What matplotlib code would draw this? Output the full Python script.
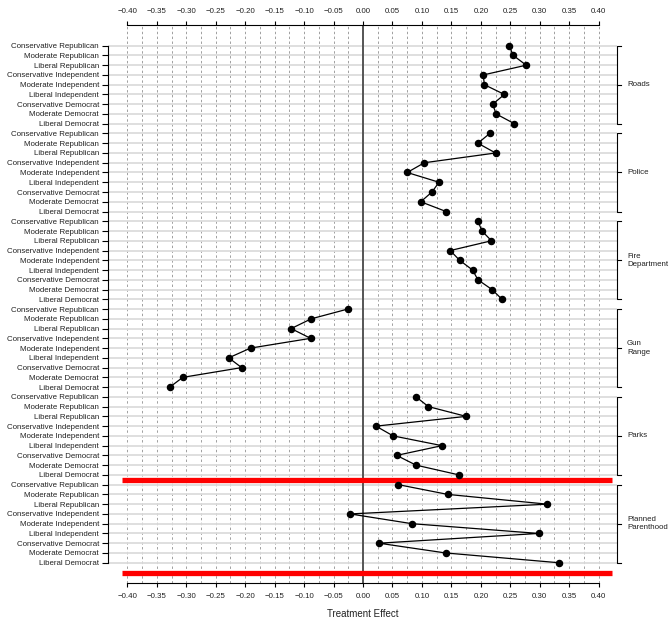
import matplotlib
matplotlib.use("Agg")
import matplotlib.pyplot as plt
import numpy as np

plt.rcParams["font.family"] = ["Liberation Sans", "DejaVu Sans"]

# respondent groups (same order within every policy block)
groups = ["Conservative Republican", "Moderate Republican", "Liberal Republican",
          "Conservative Independent", "Moderate Independent", "Liberal Independent",
          "Conservative Democrat", "Moderate Democrat", "Liberal Democrat"]

policies = ["Roads", "Police", "Fire\nDepartment", "Gun\nRange", "Parks",
            "Planned\nParenthood"]

roads = [0.248, 0.255, 0.277, 0.204, 0.206, 0.240, 0.220, 0.226, 0.257]
police = [0.215, 0.195, 0.225, 0.104, 0.075, 0.129, 0.117, 0.098, 0.141]
fire = [0.195, 0.202, 0.218, 0.148, 0.164, 0.186, 0.195, 0.219, 0.236]
gun = [-0.026, -0.088, -0.122, -0.089, -0.191, -0.228, -0.206, -0.306, -0.328]
parks = [0.090, 0.111, 0.175, 0.022, 0.051, 0.134, 0.057, 0.090, 0.163]
planned = [0.060, 0.144, 0.313, -0.022, 0.083, 0.298, 0.027, 0.140, 0.332]

effects = [roads, police, fire, gun, parks, planned]

xticks = np.round(np.arange(-0.40, 0.401, 0.05), 2)
xgrid = np.arange(-0.40, 0.401, 0.025)

fig = plt.figure(figsize=(6.71, 6.2), dpi=100)
ax = fig.add_axes([108 / 671, 37 / 620, 509 / 671, 558 / 620])

n = len(groups)
nrows = n * len(policies)
rows = np.arange(nrows)

ax.set_xlim(-0.4329, 0.4311)
ax.set_ylim(55.08, -2.12)

# background guides
for g in xgrid:
    ax.axvline(g, color="#a0a0a0", lw=0.7, ls=(0, (2.5, 2.5)), zorder=1)
ax.hlines(rows, -0.4329, 0.4311, color="#dcdcdc", lw=1.3, zorder=1)
ax.axvline(0, color="#555555", lw=1.4, zorder=2)

# one connected chain per policy block
for i, vals in enumerate(effects):
    y = rows[i * n:(i + 1) * n]
    ax.plot(vals, y, color="black", lw=0.9, marker="o", ms=4.4,
            mfc="black", mec="black", zorder=4)

# red separators around the last block
ax.hlines([44.5, 54.05], -0.409, 0.423, color="red", lw=3.8, zorder=3)

# axes
for side in ["left", "right"]:
    ax.spines[side].set_visible(False)
ax.spines["top"].set_bounds(-0.4, 0.4)
ax.spines["bottom"].set_bounds(-0.4, 0.4)
for side in ["top", "bottom"]:
    ax.spines[side].set_linewidth(0.8)

ax.set_xticks(xticks)
ax.set_xticklabels([f"{t:.2f}".replace("-", "\u2212") if t != 0 else "0.00"
                    for t in xticks])
ax.tick_params(axis="x", top=True, labeltop=True, bottom=True, labelbottom=True,
               length=3, width=0.8, pad=4.5, labelsize=5.7, labelcolor="#222222")

ax.set_yticks(rows)
ax.set_yticklabels(groups * len(policies))
ax.tick_params(axis="y", length=4, width=0.8, pad=2.4, labelsize=5.7,
               labelcolor="#222222")
ax.plot([-0.4329, -0.4329], [0, nrows - 1], color="black", lw=0.8,
        clip_on=False, zorder=5)

# brackets on the right naming each policy
xr = 0.4311
tick = 0.007
for i, name in enumerate(policies):
    top, bot = i * n, i * n + n - 1
    mid = (top + bot) / 2
    ax.plot([xr + tick, xr, xr, xr + tick], [top, top, bot, bot],
            color="black", lw=0.8, clip_on=False)
    ax.plot([xr, xr + tick], [mid, mid], color="black", lw=0.8, clip_on=False)
    ax.text(xr + 0.017, mid, name, ha="left", va="center", fontsize=5.7,
            color="#222222", linespacing=1.3, clip_on=False)

fig.text(363 / 671, 1 - 614 / 620, "Treatment Effect", ha="center",
         va="center", fontsize=7, color="#222222")

fig.savefig("out.png", dpi=100)
